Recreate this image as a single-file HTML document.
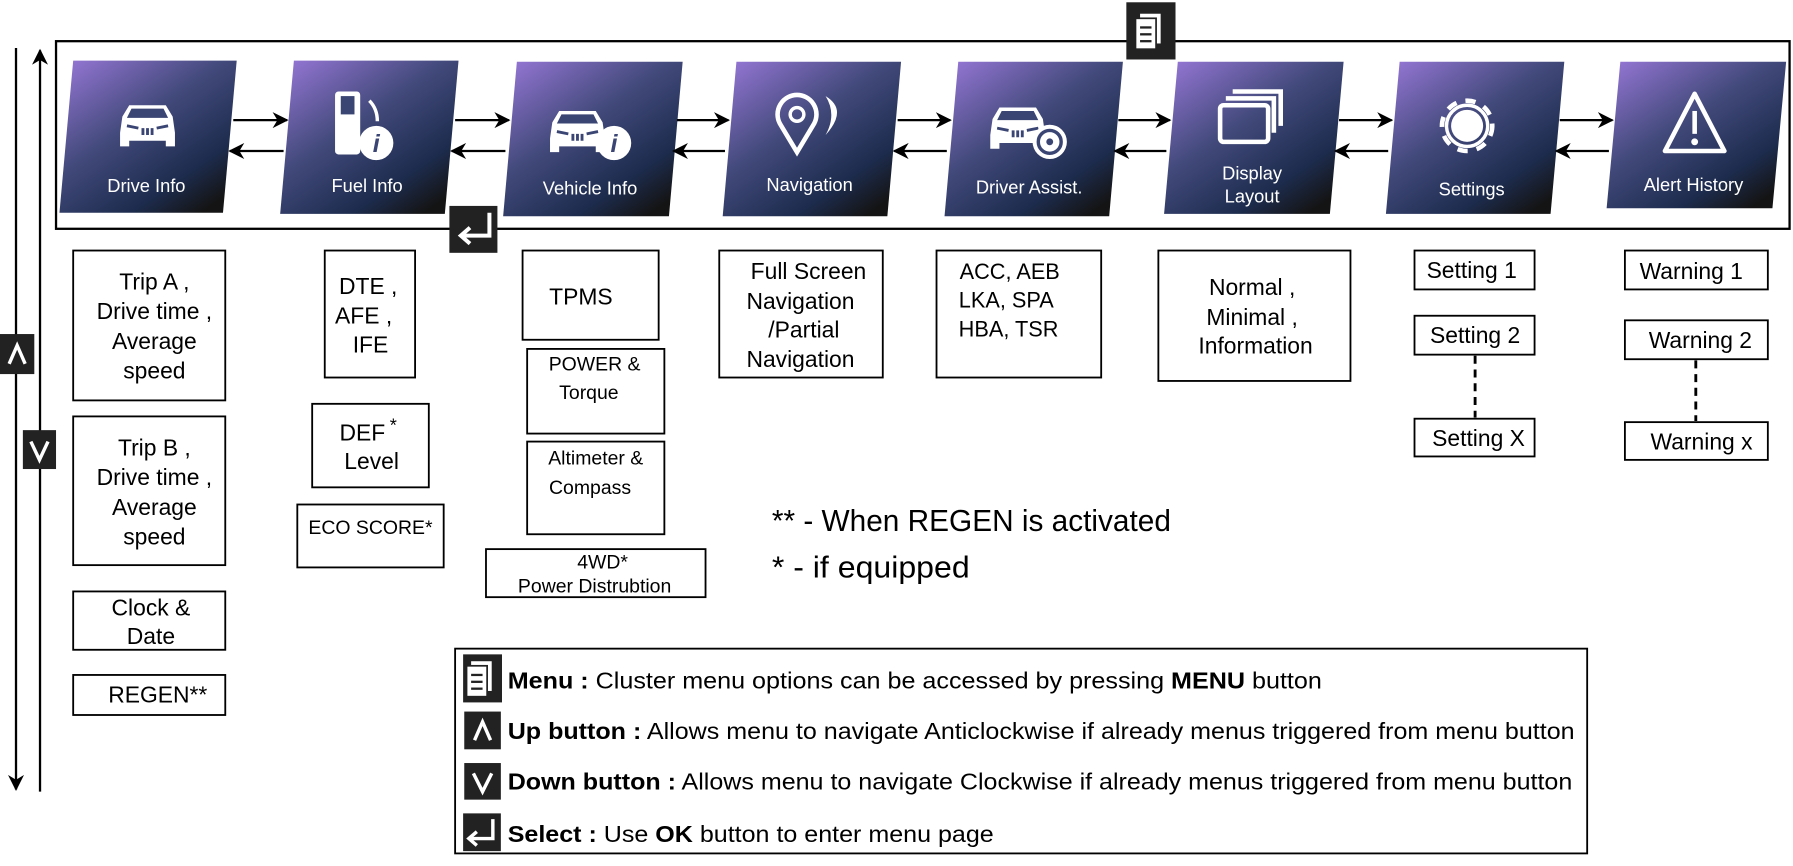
<!DOCTYPE html>
<html><head><meta charset="utf-8"><style>
html,body{margin:0;padding:0;background:#fff;width:1793px;height:866px;overflow:hidden}
svg{display:block}
text{font-family:"Liberation Sans",sans-serif}
</style></head><body>
<svg width="1793" height="866" viewBox="0 0 1568 757" preserveAspectRatio="none" xmlns="http://www.w3.org/2000/svg">
<defs>
<linearGradient id="g" x1="0" y1="0" x2="0.8" y2="1">
<stop offset="0" stop-color="#9878d8"/><stop offset="0.45" stop-color="#434a7c"/><stop offset="0.8" stop-color="#1d2c4e"/><stop offset="1" stop-color="#141414"/>
</linearGradient>
<marker id="ah" viewBox="0 0 10 10" refX="9" refY="5" markerWidth="7" markerHeight="7" orient="auto"><path d="M0,0 L10,5 L0,10 L3,5z" fill="#000"/></marker>
<g id="doc"><rect x="9" y="6" width="18" height="26" fill="#fff"/><rect x="5" y="10" width="18" height="27" fill="#fff" stroke="#222" stroke-width="1.5"/><rect x="9" y="17" width="10" height="2" fill="#222"/><rect x="9" y="23" width="10" height="2" fill="#222"/><rect x="9" y="29" width="10" height="2" fill="#222"/></g>
<g id="car"><path d="M-24,6 L-22,-8 L-16,-18 L16,-18 L22,-8 L24,6 L24,18 L16,18 L16,13 L-16,13 L-16,18 L-24,18 Z" fill="#fff"/><path d="M-14,-15 L14,-15 L18,-7 L-18,-7Z" fill="#3a4574"/><path d="M-18,0 L-8,2 M18,0 L8,2 M-4,2 L-4,8 M0,2 L0,8 M4,2 L4,8" stroke="#3a4574" stroke-width="2.5"/></g>
</defs>

<!-- left vertical arrows -->
<line x1="14" y1="42" x2="14" y2="690" stroke="#000" stroke-width="2" marker-end="url(#ah)"/>
<line x1="35" y1="692" x2="35" y2="44" stroke="#000" stroke-width="2" marker-end="url(#ah)"/>
<rect x="0" y="292" width="30" height="35" fill="#222"/>
<path d="M8,318 L15,302 L22,318" stroke="#fff" stroke-width="3" fill="none"/>
<rect x="20" y="376" width="29" height="34" fill="#222"/>
<path d="M27,386 L34.5,402 L42,386" stroke="#fff" stroke-width="3" fill="none"/>

<!-- frame -->
<rect x="49" y="36" width="1516" height="164" fill="none" stroke="#000" stroke-width="2"/>
<rect x="985" y="2" width="43" height="50" fill="#222"/>
<use href="#doc" x="988" y="6"/>

<!-- tiles -->
<g font-size="16" fill="#fff" text-anchor="middle">
<polygon points="64,53 207,53 195,186 52,186" fill="url(#g)"/>
<polygon points="257,53 401,53 389,187 245,187" fill="url(#g)"/>
<polygon points="452,54 597,54 585,189 440,189" fill="url(#g)"/>
<polygon points="644,54 788,54 776,189 632,189" fill="url(#g)"/>
<polygon points="838,54 982,54 970,189 826,189" fill="url(#g)"/>
<polygon points="1030,54 1175,54 1163,187 1018,187" fill="url(#g)"/>
<polygon points="1224,54 1368,54 1356,187 1212,187" fill="url(#g)"/>
<polygon points="1417,54 1562,54 1550,182 1405,182" fill="url(#g)"/>
<text x="128" y="168">Drive Info</text>
<text x="321" y="168">Fuel Info</text>
<text x="516" y="170">Vehicle Info</text>
<text x="708" y="167">Navigation</text>
<text x="900" y="169">Driver Assist.</text>
<text x="1095" y="157">Display</text>
<text x="1095" y="177">Layout</text>
<text x="1287" y="171">Settings</text>
<text x="1481" y="167">Alert History</text>
</g>
<!-- icons -->
<use href="#car" x="129" y="110"/>
<g fill="#fff"><rect x="293" y="80" width="22" height="55" rx="3"/><rect x="298" y="84" width="12" height="16" fill="#3a4574"/><circle cx="329" cy="125" r="15"/><text x="329" y="133" fill="#3a4574" font-size="22" font-weight="bold" font-style="italic" text-anchor="middle" font-family="Liberation Serif">i</text><path d="M323,88 Q330,95 330,106" stroke="#fff" stroke-width="3" fill="none"/></g>
<use href="#car" x="505" y="115"/>
<circle cx="537" cy="125" r="15" fill="#fff"/><text x="537" y="133" fill="#3a4574" font-size="22" font-weight="bold" font-style="italic" text-anchor="middle" font-family="Liberation Serif">i</text>
<path d="M697,133 L682,108 A17,17 0 1 1 712,108 Z" fill="none" stroke="#fff" stroke-width="4"/><circle cx="697" cy="100" r="6" fill="none" stroke="#fff" stroke-width="3"/><path d="M722,84 Q742,96 722,118 Q732,100 722,84Z" fill="#fff"/>
<use href="#car" x="890" y="112"/>
<circle cx="918" cy="124" r="15" fill="#fff"/><circle cx="918" cy="124" r="10" fill="none" stroke="#3a4574" stroke-width="3"/><circle cx="918" cy="124" r="3" fill="#3a4574"/>
<g fill="none" stroke="#fff" stroke-width="4"><rect x="1067" y="92" width="42" height="32" rx="3"/><path d="M1072,86 h42 v30 M1078,80 h42 v30"/></g>
<g transform="translate(1283,110)"><circle r="14" fill="#fff"/><circle r="22" fill="none" stroke="#fff" stroke-width="4" stroke-dasharray="9 8"/><circle r="18" fill="none" stroke="#fff" stroke-width="3"/></g>
<path d="M1482,82 L1508,132 L1456,132 Z" fill="none" stroke="#fff" stroke-width="4" stroke-linejoin="round"/><rect x="1480" y="97" width="4" height="20" fill="#fff"/><circle cx="1482" cy="124" r="3" fill="#fff"/>

<!-- horizontal arrows -->
<g stroke="#000" stroke-width="2">
<line x1="204" y1="105" x2="251" y2="105" marker-end="url(#ah)"/><line x1="248" y1="132" x2="201" y2="132" marker-end="url(#ah)"/>
<line x1="398" y1="105" x2="445" y2="105" marker-end="url(#ah)"/><line x1="442" y1="132" x2="395" y2="132" marker-end="url(#ah)"/>
<line x1="592" y1="105" x2="637" y2="105" marker-end="url(#ah)"/><line x1="634" y1="132" x2="589" y2="132" marker-end="url(#ah)"/>
<line x1="785" y1="105" x2="831" y2="105" marker-end="url(#ah)"/><line x1="828" y1="132" x2="782" y2="132" marker-end="url(#ah)"/>
<line x1="978" y1="105" x2="1023" y2="105" marker-end="url(#ah)"/><line x1="1020" y1="132" x2="975" y2="132" marker-end="url(#ah)"/>
<line x1="1171" y1="105" x2="1217" y2="105" marker-end="url(#ah)"/><line x1="1214" y1="132" x2="1168" y2="132" marker-end="url(#ah)"/>
<line x1="1364" y1="105" x2="1410" y2="105" marker-end="url(#ah)"/><line x1="1407" y1="132" x2="1361" y2="132" marker-end="url(#ah)"/>
</g>
<rect x="393" y="180" width="42" height="41" fill="#222"/>
<path d="M428,186 V206 H404 M411,199 L403,206 L411,213" stroke="#fff" stroke-width="3.5" fill="none"/>

<!-- boxes -->
<g fill="none" stroke="#000" stroke-width="1.6">
<rect x="64" y="219" width="133" height="131"/><rect x="64" y="364" width="133" height="130"/>
<rect x="64" y="517" width="133" height="51"/><rect x="64" y="590" width="133" height="35"/>
<rect x="284" y="219" width="79" height="111"/><rect x="273" y="353" width="102" height="73"/><rect x="260" y="441" width="128" height="55"/>
<rect x="457" y="219" width="119" height="78"/><rect x="461" y="305" width="120" height="74"/><rect x="461" y="386" width="120" height="81"/><rect x="425" y="480" width="192" height="42"/>
<rect x="629" y="219" width="143" height="111"/><rect x="819" y="219" width="144" height="111"/><rect x="1013" y="219" width="168" height="114"/>
<rect x="1237" y="219" width="105" height="34"/><rect x="1237" y="276" width="105" height="34"/><rect x="1237" y="366" width="105" height="33"/>
<rect x="1421" y="219" width="125" height="34"/><rect x="1421" y="280" width="125" height="34"/><rect x="1421" y="369" width="125" height="33"/>
<line x1="1290" y1="311" x2="1290" y2="365" stroke-dasharray="7 5" stroke-width="2.5"/>
<line x1="1483" y1="315" x2="1483" y2="368" stroke-dasharray="7 5" stroke-width="2.5"/>
<rect x="398" y="567" width="990" height="179"/>
</g>

<g font-size="20" fill="#000" text-anchor="middle">
<text x="135" y="253">Trip A ,</text><text x="135" y="279">Drive time ,</text><text x="135" y="305">Average</text><text x="135" y="331">speed</text>
<text x="135" y="398">Trip B ,</text><text x="135" y="424">Drive time ,</text><text x="135" y="450">Average</text><text x="135" y="476">speed</text>
<text x="132" y="538">Clock &amp;</text><text x="132" y="563">Date</text>
<text x="138" y="614">REGEN**</text>
<text x="322" y="257">DTE ,</text><text x="318" y="283">AFE ,</text><text x="324" y="308">IFE</text>
<text x="322" y="385">DEF<tspan dx="4" dy="-8" font-size="16">*</tspan></text><text x="325" y="410">Level</text>
<text x="508" y="266">TPMS</text>
<text x="707" y="244">Full Screen</text><text x="700" y="270">Navigation</text><text x="703" y="295">/Partial</text><text x="700" y="321">Navigation</text>
<text x="883" y="244" font-size="19">ACC, AEB</text><text x="880" y="269" font-size="19">LKA, SPA</text><text x="882" y="294" font-size="19">HBA, TSR</text>
<text x="1095" y="258">Normal ,</text><text x="1095" y="284">Minimal ,</text><text x="1098" y="309">Information</text>
<text x="1287" y="243">Setting 1</text><text x="1290" y="300">Setting 2</text><text x="1293" y="390">Setting X</text>
<text x="1479" y="244">Warning 1</text><text x="1487" y="304">Warning 2</text><text x="1488" y="393">Warning x</text>
</g>
<g font-size="17" fill="#000" text-anchor="middle">
<text x="520" y="324">POWER &amp;</text><text x="515" y="349">Torque</text>
<text x="521" y="406">Altimeter &amp;</text><text x="516" y="432">Compass</text>
<text x="324" y="467">ECO SCORE*</text>
<text x="527" y="497">4WD*</text><text x="520" y="518">Power Distrubtion</text>
</g>
<text x="675" y="464" font-size="27" textLength="349" lengthAdjust="spacingAndGlyphs">** - When REGEN is activated</text>
<text x="675" y="505" font-size="27" textLength="173" lengthAdjust="spacingAndGlyphs">* - if equipped</text>

<!-- legend -->
<rect x="405" y="572" width="34" height="42" fill="#222"/><use href="#doc" x="403" y="572"/>
<rect x="406" y="622" width="32" height="33" fill="#222"/><path d="M415,647 L422,631 L429,647" stroke="#fff" stroke-width="3" fill="none"/>
<rect x="406" y="667" width="32" height="32" fill="#222"/><path d="M414,676 L422,692 L430,676" stroke="#fff" stroke-width="3" fill="none"/>
<rect x="405" y="711" width="33" height="33" fill="#222"/><path d="M431,716 V733 H411 M417,727 L410,733 L417,739" stroke="#fff" stroke-width="3" fill="none"/>
<g font-size="20" fill="#000">
<text x="444" y="602" textLength="712" lengthAdjust="spacingAndGlyphs"><tspan font-weight="bold">Menu :</tspan> Cluster menu options can be accessed by pressing <tspan font-weight="bold">MENU</tspan> button</text>
<text x="444" y="646" textLength="933" lengthAdjust="spacingAndGlyphs"><tspan font-weight="bold">Up button :</tspan> Allows menu to navigate Anticlockwise if already menus triggered from menu button</text>
<text x="444" y="690" textLength="931" lengthAdjust="spacingAndGlyphs"><tspan font-weight="bold">Down button :</tspan> Allows menu to navigate Clockwise if already menus triggered from menu button</text>
<text x="444" y="736" textLength="425" lengthAdjust="spacingAndGlyphs"><tspan font-weight="bold">Select :</tspan> Use <tspan font-weight="bold">OK</tspan> button to enter menu page</text>
</g>
</svg>
</body></html>
